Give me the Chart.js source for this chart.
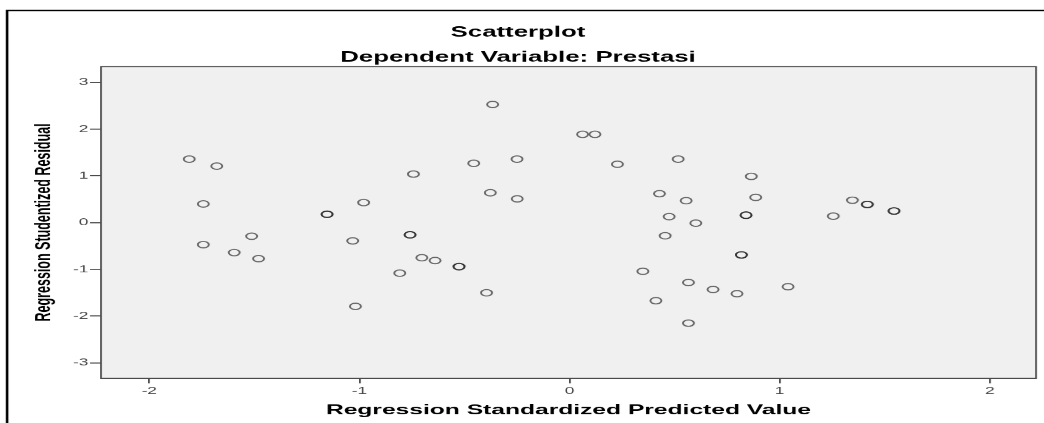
<!DOCTYPE html>
<html>
<head>
<meta charset="utf-8">
<script src="https://cdn.jsdelivr.net/npm/chart.js@4.4.1/dist/chart.umd.min.js"></script>
<style>
  html, body { margin: 0; padding: 0; background: #fff; overflow: hidden; }
  /* the source image is stretched sideways, so the chart is drawn narrow and widened */
  #wrap { position: absolute; left: 0; top: 0; width: 614px; height: 423px;
          transform: scaleX(1.72); transform-origin: 0 0; }
</style>
</head>
<body>
<div id="wrap"><canvas id="scatter"></canvas></div>
<script>
const predicted = [
  -1.810, -1.679, -1.743, -1.743, -1.596, -1.513, -1.480, -1.154, -1.154, -1.032,
  -0.980, -1.019, -0.743, -0.759, -0.759, -0.808, -0.703, -0.640, -0.526, -0.526,
  -0.366, -0.456, -0.377, -0.250, -0.249, -0.395, 0.062, 0.121, 0.228, 0.517,
  0.865, 0.428, 0.555, 0.886, 0.474, 0.601, 0.840, 0.840, 0.455, 0.818,
  0.818, 0.349, 0.566, 0.683, 0.797, 1.040, 0.411, 0.566, 1.346, 1.417,
  1.417, 1.544, 1.544, 1.255
];
const residual = [
  1.36, 1.21, 0.40, -0.47, -0.64, -0.29, -0.77, 0.18, 0.18, -0.39,
  0.43, -1.79, 1.04, -0.26, -0.26, -1.08, -0.75, -0.81, -0.94, -0.94,
  2.53, 1.27, 0.64, 1.36, 0.51, -1.50, 1.89, 1.89, 1.25, 1.36,
  0.99, 0.62, 0.47, 0.54, 0.13, -0.01, 0.16, 0.16, -0.28, -0.69,
  -0.69, -1.04, -1.28, -1.43, -1.52, -1.37, -1.67, -2.15, 0.48, 0.39,
  0.39, 0.25, 0.25, 0.14
];
const xTicks = [-2, -1, 0, 1, 2];
const yTicks = [-3, -2, -1, 0, 1, 2, 3];

const FONT = 'Arial, "Liberation Sans", sans-serif';

const framePlugin = {
  id: 'frame',
  beforeDraw(chart) {
    const { ctx, chartArea: a } = chart;
    ctx.save();
    ctx.fillStyle = '#f0f0f0';
    ctx.fillRect(a.left, a.top, a.right - a.left, a.bottom - a.top);
    ctx.restore();
  },
  afterDraw(chart) {
    const { ctx, chartArea: a } = chart;
    ctx.save();
    ctx.strokeStyle = '#4a4a4a';
    ctx.lineWidth = 1;
    ctx.strokeRect(a.left, a.top, a.right - a.left, a.bottom - a.top);
    // outer box of the output window
    ctx.strokeStyle = '#000';
    ctx.lineWidth = 1.5;
    ctx.beginPath();
    ctx.moveTo(4.1, 423);
    ctx.lineTo(4.1, 10.5);
    ctx.lineTo(612, 10.5);
    ctx.stroke();
    ctx.restore();
  }
};

new Chart(document.getElementById('scatter'), {
  type: 'scatter',
  data: {
    datasets: [{
      data: predicted.map((x, i) => ({ x: x, y: residual[i] })),
      pointStyle: 'circle',
      pointRadius: 3.2,
      pointHoverRadius: 3.2,
      borderWidth: 1.1,
      borderColor: 'rgba(20,20,20,0.62)',
      backgroundColor: 'rgba(0,0,0,0)'
    }]
  },
  options: {
    responsive: true,
    maintainAspectRatio: false,
    devicePixelRatio: 1.72,
    animation: false,
    layout: { padding: { left: 0, right: 11.7, top: 0, bottom: 0 } },
    plugins: {
      legend: { display: false },
      tooltip: { enabled: false },
      title: {
        display: true,
        text: 'Scatterplot',
        color: '#000',
        font: { family: FONT, size: 15, weight: 'bold' },
        padding: { top: 23.5, bottom: 7 }
      },
      subtitle: {
        display: true,
        text: 'Dependent Variable: Prestasi',
        color: '#000',
        font: { family: FONT, size: 15, weight: 'bold', lineHeight: 1 },
        padding: { top: 1.5, bottom: 1.5 }
      }
    },
    scales: {
      x: {
        type: 'linear',
        min: -2.23,
        max: 2.22,
        afterFit(scale) { scale.height = 45; },
        afterBuildTicks(scale) { scale.ticks = xTicks.map(v => ({ value: v })); },
        border: { display: false },
        grid: { display: true, drawOnChartArea: false, drawTicks: true, tickLength: 5, color: '#444' },
        ticks: { color: '#444', padding: 2, font: { family: FONT, size: 10 } },
        title: {
          display: true,
          text: 'Regression Standardized Predicted Value',
          color: '#000',
          font: { family: FONT, size: 14.3, weight: 'bold' },
          padding: { top: 0, bottom: 4.6 }
        }
      },
      y: {
        type: 'linear',
        min: -3.33,
        max: 3.34,
        afterFit(scale) { scale.width = 58.7; },
        afterBuildTicks(scale) { scale.ticks = yTicks.map(v => ({ value: v })); },
        border: { display: false },
        grid: { display: true, drawOnChartArea: false, drawTicks: true, tickLength: 6.4, color: '#444' },
        ticks: { color: '#444', padding: 1, font: { family: FONT, size: 10 } },
        title: {
          display: true,
          text: 'Regression Studentized Residual',
          color: '#000',
          font: { family: FONT, size: 12.5, weight: 'bold' },
          padding: { top: 18, bottom: 0 }
        }
      }
    }
  },
  plugins: [framePlugin]
});
</script>
</body>
</html>
